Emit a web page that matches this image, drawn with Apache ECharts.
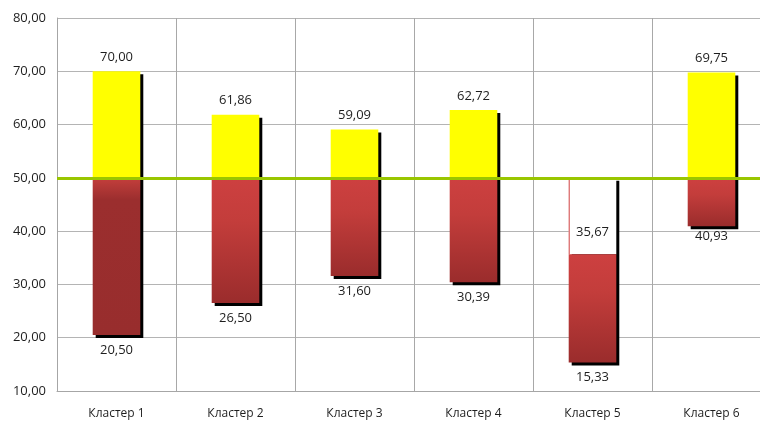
<!DOCTYPE html>
<html>
<head>
<meta charset="utf-8">
<script src="https://cdn.jsdelivr.net/npm/echarts@6/dist/echarts.min.js"></script>
<style>
  html, body { margin: 0; padding: 0; background: #fff; overflow: hidden; }
  #chart { width: 771px; height: 421px; }
</style>
</head>
<body>
<div id="chart"></div>
<script>
// data
var categories = ["Кластер 1", "Кластер 2", "Кластер 3", "Кластер 4", "Кластер 5", "Кластер 6"];
var highValues = [70.00, 61.86, 59.09, 62.72, null, 69.75];
var lowValues = [20.50, 26.50, 31.60, 30.39, 15.33, 40.93];
// top of the red part (below 50 only for cluster 5)
var redTopValues = [50, 50, 50, 50, 35.67, 50];
var baseLine = 50;
var yTicks = [10, 20, 30, 40, 50, 60, 70, 80];

function fmt(v) {
	return v.toFixed(2).replace(".", ",");
}

var font = '13px "Open Sans", sans-serif';
var textColor = "#1e1e1e";

var seriesData = categories.map(function (c, i) {
	return [i, lowValues[i], redTopValues[i], highValues[i] == null ? baseLine : highValues[i]];
});

function redGradient(i) {
	if (i === 0) {
		return new echarts.graphic.LinearGradient(0, 0, 0, 1, [
			{ offset: 0, color: "#c43f3c" },
			{ offset: 0.14, color: "#9b2e2e" },
			{ offset: 1, color: "#982d2d" }
		]);
	}
	return new echarts.graphic.LinearGradient(0, 0, 0, 1, [
		{ offset: 0, color: "#cd4040" },
		{ offset: 0.35, color: "#c33d3b" },
		{ offset: 1, color: "#9a2c2c" }
	]);
}

function renderItem(params, api) {
	var i = api.value(0);
	var low = api.value(1);
	var redTop = api.value(2);
	var high = api.value(3);
	var w = api.size([1, 0])[0] * 0.4;
	var cx = api.coord([i, baseLine])[0];
	var x = cx - w / 2;
	var yBase = api.coord([i, baseLine])[1];
	var yLow = api.coord([i, low])[1];
	var yRedTop = api.coord([i, redTop])[1];
	var yHigh = api.coord([i, high])[1];
	var children = [];
	// black shadow behind the whole column
	children.push({
		type: "rect",
		shape: { x: x + 3, y: yHigh + 3, width: w, height: yLow - yHigh },
		style: { fill: "#000" }
	});
	// white gap (cluster 5)
	if (redTop < baseLine) {
		children.push({
			type: "rect",
			shape: { x: x, y: yBase, width: w, height: yRedTop - yBase },
			style: { fill: "#fff" }
		});
		children.push({
			type: "line",
			shape: { x1: x + 0.5, y1: yBase, x2: x + 0.5, y2: yRedTop },
			style: { stroke: "#d04040", lineWidth: 1 }
		});
	}
	children.push({
		type: "rect",
		shape: { x: x, y: yRedTop, width: w, height: yLow - yRedTop },
		style: { fill: redGradient(i) }
	});
	if (high > baseLine) {
		children.push({
			type: "rect",
			shape: { x: x, y: yHigh, width: w, height: yBase - yHigh },
			style: { fill: "#ffff00" }
		});
		children.push({
			type: "text",
			style: {
				text: fmt(high), x: cx, y: yHigh - 14,
				align: "center", verticalAlign: "middle",
				font: font, fill: textColor
			}
		});
	}
	if (redTop < baseLine) {
		children.push({
			type: "text",
			style: {
				text: fmt(redTop), x: cx, y: yRedTop - 22,
				align: "center", verticalAlign: "middle",
				font: font, fill: textColor
			}
		});
	}
	children.push({
		type: "text",
		style: {
			text: fmt(low), x: cx, y: yLow + (i === 5 ? 10 : 15),
			align: "center", verticalAlign: "middle",
			font: font, fill: textColor
		}
	});
	return { type: "group", children: children };
}

var chart = echarts.init(document.getElementById("chart"));
chart.setOption({
	animation: false,
	grid: { left: 57, right: 0, top: 18, bottom: 30 },
	xAxis: {
		type: "category",
		data: categories,
		boundaryGap: true,
		axisLine: { show: true, lineStyle: { color: "#a6a6a6", width: 1 } },
		axisTick: { show: false },
		axisLabel: {
			interval: 0,
			margin: 17,
			color: textColor,
			fontFamily: "Open Sans",
			fontSize: 12
		},
		splitLine: { show: true, interval: 0, lineStyle: { color: "#a8a8a8", width: 1 } }
	},
	yAxis: {
		type: "value",
		min: yTicks[0],
		max: yTicks[yTicks.length - 1],
		interval: 10,
		axisLine: { show: true, lineStyle: { color: "#a6a6a6", width: 1 } },
		axisTick: { show: false },
		axisLabel: {
			margin: 11,
			color: textColor,
			fontFamily: "Open Sans",
			fontSize: 13,
			formatter: function (v) { return fmt(v); }
		},
		splitLine: { show: true, lineStyle: { color: "#b4b4b4", width: 1 } }
	},
	series: [
		{
			type: "custom",
			renderItem: renderItem,
			encode: { x: 0, y: [1, 2, 3] },
			data: seriesData,
			clip: false
		},
		{
			type: "line",
			data: [],
			z: 10,
			markLine: {
				silent: true,
				symbol: "none",
				label: { show: false },
				lineStyle: { type: "solid", color: "#99c600", width: 3 },
				data: [{ yAxis: baseLine }]
			}
		}
	]
});
</script>
</body>
</html>
